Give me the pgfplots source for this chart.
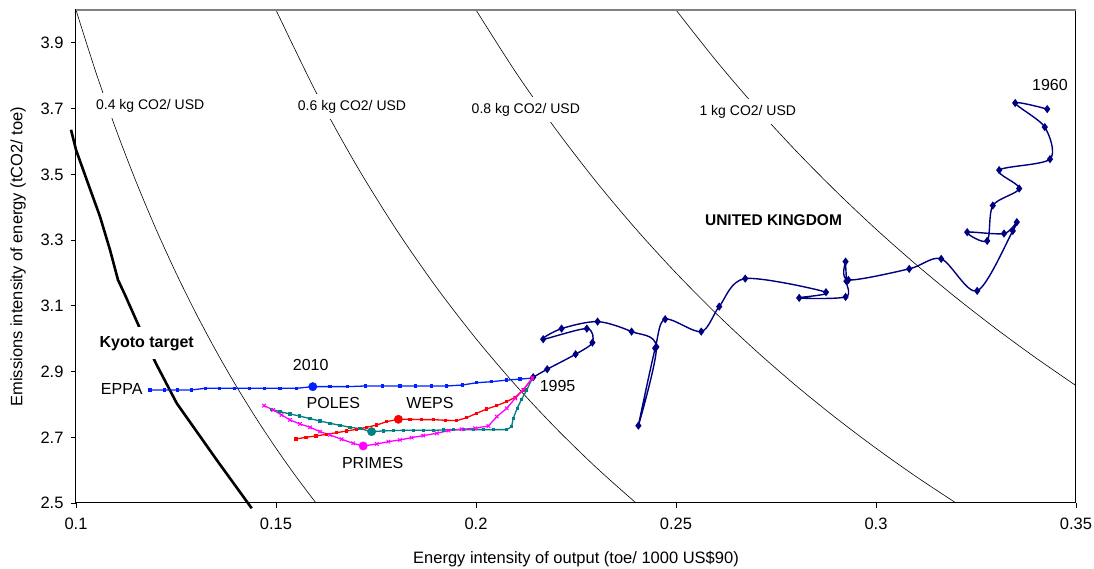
\documentclass[border=0pt]{standalone}
\usepackage{fontspec}
\setmainfont{Liberation Sans}
\usepackage{pgfplots}
\pgfplotsset{compat=1.18}
\definecolor{uknavy}{RGB}{0,0,128}
\definecolor{eppablue}{RGB}{0,32,255}
\definecolor{polesteal}{RGB}{0,128,128}
\definecolor{wepsred}{RGB}{255,0,0}
\definecolor{primesmag}{RGB}{255,0,255}
\begin{document}
\begin{tikzpicture}
\begin{axis}[
  scale only axis, width=1000pt, height=493pt,
  xmin=0.1, xmax=0.35, ymin=2.5, ymax=4.0,
  xtick={0.1,0.15,0.2,0.25,0.3,0.35},
  xticklabels={0.1,0.15,0.2,0.25,0.3,0.35},
  ytick={2.5,2.7,2.9,3.1,3.3,3.5,3.7,3.9},
  yticklabels={2.5,2.7,2.9,3.1,3.3,3.5,3.7,3.9},
  xtick pos=left, ytick pos=left,
  tick align=outside, major tick length=5pt,
  tick style={black, line width=0.8pt},
  axis line style={black, line width=1pt},
  ticklabel style={font=\fontsize{16.5}{18}\selectfont},
  xticklabel style={yshift=-6pt},
  yticklabel style={xshift=-4pt},
  /pgf/number format/assume math mode=true,
  xlabel={Energy intensity of output (toe/ 1000 US\$90)},
  ylabel={Emissions intensity of energy (tCO2/ toe)},
  label style={font=\fontsize{16.5}{18}\selectfont},
  xlabel style={at={(axis description cs:0.5,0)}, anchor=center, yshift=-56pt},
  ylabel style={at={(axis description cs:-0.058,0.5)}, anchor=center},
  clip=false,
]
% iso-emission curves
\addplot[black, line width=0.6pt, smooth] coordinates {
 (0.1,4.0) (0.105,3.8095) (0.11,3.6364) (0.115,3.4783) (0.12,3.3333) (0.125,3.2)
 (0.13,3.0769) (0.135,2.963) (0.14,2.8571) (0.145,2.7586) (0.15,2.6667) (0.155,2.5806) (0.16,2.5)};
\addplot[black, line width=0.6pt, smooth] coordinates {
 (0.15,4.0) (0.16,3.75) (0.17,3.5294) (0.18,3.3333) (0.19,3.1579) (0.20,3.0)
 (0.21,2.8571) (0.22,2.7273) (0.23,2.6087) (0.24,2.5)};
\addplot[black, line width=0.6pt, smooth] coordinates {
 (0.2,4.0) (0.21,3.8095) (0.22,3.6364) (0.23,3.4783) (0.24,3.3333) (0.25,3.2)
 (0.26,3.0769) (0.27,2.963) (0.28,2.8571) (0.29,2.7586) (0.30,2.6667) (0.31,2.5806) (0.32,2.5)};
\addplot[black, line width=0.6pt, smooth] coordinates {
 (0.25,4.0) (0.26,3.8462) (0.27,3.7037) (0.28,3.5714) (0.29,3.4483) (0.30,3.3333)
 (0.31,3.2258) (0.32,3.125) (0.33,3.0303) (0.34,2.9412) (0.35,2.8571)};
% Kyoto target
\addplot[black, line width=2.6pt] coordinates {
 (0.09875,3.6355) (0.1,3.5746) (0.10268,3.4833) (0.106,3.3716) (0.1085,3.2702)
 (0.1105,3.1788) (0.11225,3.1332) (0.11558,3.0419) (0.11775,2.9810) (0.12018,2.9201)
 (0.12518,2.8035) (0.13518,2.6309) (0.14393,2.4839)};
% iso labels
\tikzset{isolab/.style={fill=white, inner xsep=2pt, inner ysep=6pt, font=\fontsize{14}{16}\selectfont}}
\node[isolab] at (axis cs:0.11855,3.7085) {0.4 kg CO2/ USD};
\node[isolab] at (axis cs:0.169,3.7055) {0.6 kg CO2/ USD};
\node[isolab] at (axis cs:0.21245,3.6964) {0.8 kg CO2/ USD};
\node[isolab] at (axis cs:0.26795,3.6903) {1 kg CO2/ USD};
\node[fill=white, inner xsep=1pt, inner ysep=9pt, font=\fontsize{16}{18}\selectfont\bfseries] at (axis cs:0.11768,2.9862) {Kyoto target};
% United Kingdom 1960-1995
\addplot[uknavy, line width=1.4pt, smooth, tension=0.5, mark=diamond*, mark size=3pt, mark options={solid}] coordinates {
 (0.3428,3.6985) (0.3348,3.717) (0.3422,3.6437) (0.3435,3.5463) (0.3308,3.5128)
 (0.3358,3.4568) (0.3292,3.405) (0.3278,3.2976) (0.3228,3.324) (0.332,3.3198)
 (0.3352,3.3545) (0.3342,3.328) (0.3253,3.1454) (0.3163,3.2428) (0.3083,3.2123)
 (0.2931,3.1788) (0.2924,3.2346) (0.2926,3.175) (0.2924,3.1271) (0.2808,3.124)
 (0.2875,3.1414) (0.2673,3.1828) (0.2608,3.0976) (0.2563,3.0215) (0.2473,3.0592)
 (0.2448,2.9709) (0.2406,2.7353) (0.2451,2.975) (0.2389,3.0215) (0.2304,3.0519)
 (0.2214,3.0306) (0.2168,2.9983) (0.2277,3.0306) (0.2291,2.988) (0.2249,2.9527)
 (0.2178,2.907) (0.2143,2.8826)};
% EPPA
\addplot[eppablue, line width=1.3pt, mark=square*, mark size=1pt] coordinates {
 (0.1185,2.844) (0.1221,2.844) (0.1254,2.844) (0.1288,2.844) (0.1324,2.849)
 (0.1358,2.849) (0.1396,2.849) (0.1433,2.849) (0.1471,2.849) (0.151,2.849)
 (0.1551,2.849) (0.1592,2.854) (0.1635,2.854) (0.1679,2.854) (0.1723,2.856)
 (0.1767,2.856) (0.181,2.856) (0.1849,2.856) (0.1888,2.856) (0.1927,2.856)
 (0.1966,2.859) (0.2002,2.866) (0.2039,2.869) (0.2077,2.874) (0.211,2.877) (0.2141,2.880)};
% POLES (teal)
\addplot[polesteal, line width=1.3pt, mark=square*, mark size=1pt] coordinates {
 (0.1489,2.7851) (0.1510,2.7780) (0.1535,2.7709) (0.1558,2.7648) (0.1585,2.7567)
 (0.1610,2.7496) (0.1635,2.7425) (0.1660,2.7364) (0.1685,2.7303) (0.1710,2.7263)
 (0.1739,2.7172) (0.1768,2.7192) (0.1793,2.7202) (0.1818,2.7212) (0.1843,2.7212)
 (0.1868,2.7212) (0.1893,2.7212) (0.1918,2.7222) (0.1943,2.7232) (0.1968,2.7232)
 (0.1993,2.7232) (0.2018,2.7232) (0.2043,2.7232) (0.2077,2.7232) (0.2089,2.7324)
 (0.2093,2.7577) (0.2103,2.7882) (0.2114,2.8156) (0.2127,2.8440) (0.2141,2.880)};
% WEPS (red)
\addplot[wepsred, line width=1.3pt, mark=square*, mark size=1pt] coordinates {
 (0.1550,2.6948) (0.1575,2.6999) (0.1600,2.7040) (0.1627,2.7090) (0.1652,2.7141)
 (0.1677,2.7192) (0.1702,2.7243) (0.1727,2.7303) (0.1752,2.7374) (0.1777,2.7476)
 (0.1806,2.7547) (0.1835,2.7547) (0.1864,2.7537) (0.1893,2.7537) (0.1923,2.7517)
 (0.1952,2.7506) (0.1977,2.7598) (0.2002,2.7730) (0.2027,2.7862) (0.2052,2.7963)
 (0.2077,2.8085) (0.2098,2.8217) (0.2118,2.8440) (0.2141,2.880)};
% PRIMES (magenta)
\addplot[primesmag, line width=1.3pt, mark=x, mark size=2.5pt, mark options={line width=1pt}] coordinates {
 (0.1470,2.7963) (0.1493,2.7831) (0.1514,2.7679) (0.1535,2.7527) (0.1560,2.7405)
 (0.1585,2.7303) (0.1610,2.7172) (0.1635,2.7070) (0.1664,2.6938) (0.1693,2.6816)
 (0.1718,2.6735) (0.1752,2.6796) (0.1781,2.6867) (0.1810,2.6918) (0.1839,2.6989)
 (0.1868,2.7050) (0.1902,2.7121) (0.1931,2.7202) (0.1964,2.7243) (0.1998,2.7273)
 (0.2031,2.7344) (0.2052,2.7628) (0.2077,2.7882) (0.2098,2.8186) (0.2118,2.8440) (0.2141,2.880)};
% 2010 points
\addplot[only marks, mark=*, mark size=4.2pt, eppablue] coordinates {(0.1592,2.854)};
\addplot[only marks, mark=*, mark size=4.2pt, polesteal] coordinates {(0.1739,2.7172)};
\addplot[only marks, mark=*, mark size=4.2pt, wepsred] coordinates {(0.1806,2.7547)};
\addplot[only marks, mark=*, mark size=4.2pt, primesmag] coordinates {(0.1718,2.6735)};
% labels
\tikzset{lab/.style={font=\fontsize{16}{18}\selectfont, inner sep=0pt}}
\node[lab] at (axis cs:0.11143,2.8461) {EPPA};
\node[lab] at (axis cs:0.15868,2.92) {2010};
\node[lab] at (axis cs:0.16433,2.8035) {POLES};
\node[lab] at (axis cs:0.1885,2.8035) {WEPS};
\node[lab] at (axis cs:0.17418,2.6209) {PRIMES};
\node[lab] at (axis cs:0.2204,2.857) {1995};
\node[lab] at (axis cs:0.3435,3.7725) {1960};
\node[font=\fontsize{15.5}{18}\selectfont\bfseries, inner sep=0pt] at (axis cs:0.27438,3.3615) {UNITED KINGDOM};
\draw[gray, line width=1.2pt] (axis description cs:0,1) -- (axis description cs:1,1);
\end{axis}
\pgfresetboundingbox
\path (current axis.south west) ++(-76pt,-66pt) rectangle ++(1094pt,569pt);
\end{tikzpicture}
\end{document}
